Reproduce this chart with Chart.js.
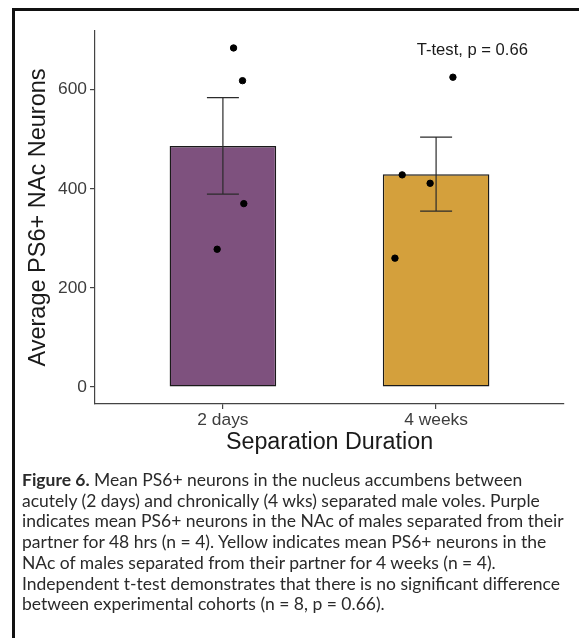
<!DOCTYPE html>
<html>
<head>
<meta charset="utf-8">
<script src="https://cdn.jsdelivr.net/npm/chart.js@4"></script>
<style>
  body { margin: 0; background: #fff; }
  #wrap { position: relative; width: 579px; height: 638px; overflow: hidden; }
  #chart { position: absolute; left: 0; top: 0; }
  #frame { position: absolute; left: 12px; top: 8px; width: 600px; height: 700px;
           border-top: 3px solid #111; border-left: 3px solid #111; pointer-events: none; }
  #caption { position: absolute; left: 22px; top: 470px; font-family: Lato, "Open Sans", sans-serif;
             font-size: 17.5px; line-height: 20.7px; color: #2a2a2a; white-space: nowrap; }
</style>
</head>
<body>
<div id="wrap">
  <canvas id="chart" width="579" height="460"></canvas>
  <div id="frame"></div>
  <div id="caption">
    <b>Figure 6.</b> Mean PS6+ neurons in the nucleus accumbens between<br>
    acutely (2 days) and chronically (4 wks) separated male voles. Purple<br>
    indicates mean PS6+ neurons in the NAc of males separated from their<br>
    partner for 48 hrs (n = 4). Yellow indicates mean PS6+ neurons in the<br>
    NAc of males separated from their partner for 4 weeks (n = 4).<br>
    Independent t-test demonstrates that there is no significant difference<br>
    between experimental cohorts (n = 8, p = 0.66).
  </div>
</div>
<script>
// groups and their means
const groups = ['2 days', '4 weeks'];
const groupPos = [1, 2];
const means = [486, 429];
const errLow = [389, 355];
const errHigh = [584, 504];
const barColors = ['#7e517e', '#d4a03c'];

// individual animals (jittered x, value)
const pointX = [1.05, 1.092, 1.098, 0.973, 2.079, 1.841, 1.972, 1.807];
const pointY = [684, 618, 370, 278, 625, 428, 411, 260];

const yTicks = [0, 200, 400, 600];
const statLabel = 'T-test, p = 0.66';
const statX = 2.17, statY = 680;

const errorBars = {
    id: 'errorBars',
    afterDatasetDraw(chart, args) {
        if (args.index !== 1) return;
        const ctx = chart.ctx, xs = chart.scales.x, ys = chart.scales.y;
        ctx.save();
        ctx.strokeStyle = '#2b2b2b';
        ctx.lineWidth = 1.2;
        groupPos.forEach((g, i) => {
            const x = xs.getPixelForValue(g);
            const x0 = xs.getPixelForValue(g - 0.075), x1 = xs.getPixelForValue(g + 0.075);
            const lo = ys.getPixelForValue(errLow[i]), hi = ys.getPixelForValue(errHigh[i]);
            ctx.beginPath();
            ctx.moveTo(x, lo); ctx.lineTo(x, hi);
            ctx.moveTo(x0, lo); ctx.lineTo(x1, lo);
            ctx.moveTo(x0, hi); ctx.lineTo(x1, hi);
            ctx.stroke();
        });
        ctx.restore();
    },
    afterDraw(chart) {
        const ctx = chart.ctx;
        ctx.save();
        ctx.font = '16.6px "Liberation Sans", Arial, sans-serif';
        ctx.fillStyle = '#1a1a1a';
        ctx.textAlign = 'center';
        ctx.textBaseline = 'middle';
        ctx.fillText(statLabel, chart.scales.x.getPixelForValue(statX), chart.scales.y.getPixelForValue(statY));
        ctx.restore();
    }
};

new Chart(document.getElementById('chart').getContext('2d'), {
    type: 'bar',
    data: {
        datasets: [{
            type: 'scatter',
            data: pointX.map((x, i) => ({ x: x, y: pointY[i] })),
            backgroundColor: '#000',
            borderColor: '#000',
            pointRadius: 3.2,
            pointHoverRadius: 3.2
        }, {
            type: 'bar',
            data: groupPos.map((x, i) => ({ x: x, y: means[i] })),
            backgroundColor: barColors,
            borderColor: '#1a1a1a',
            borderWidth: 1.4,
            borderSkipped: false,
            barPercentage: 0.5,
            categoryPercentage: 1
        }]
    },
    options: {
        responsive: false,
        animation: false,
        layout: { padding: { top: 31, right: 15, left: 0, bottom: 0 } },
        plugins: { legend: { display: false }, tooltip: { enabled: false } },
        scales: {
            x: {
                type: 'linear',
                min: 0.4,
                max: 2.6,
                offset: false,
                afterBuildTicks: s => { s.ticks = groupPos.map(v => ({ value: v })); },
                afterFit: s => { s.height = 56; },
                grid: { display: true, offset: false, drawOnChartArea: false, drawTicks: true, tickLength: 5, color: '#444', lineWidth: 1.2 },
                border: { display: true, color: '#444', width: 1.2 },
                ticks: {
                    padding: 1,
                    color: '#3d3d3d',
                    font: { family: '"Liberation Sans", Arial, sans-serif', size: 17.4 },
                    callback: (v) => groups[groupPos.indexOf(v)] || ''
                },
                title: {
                    display: true,
                    text: 'Separation Duration',
                    color: '#1a1a1a',
                    font: { family: '"Liberation Sans", Arial, sans-serif', size: 23.3 },
                    padding: { top: 0, bottom: 3 }
                }
            },
            y: {
                min: -34.2,
                max: 718.2,
                afterBuildTicks: s => { s.ticks = yTicks.map(v => ({ value: v })); },
                afterFit: s => { s.width = 95; },
                grid: { display: true, drawOnChartArea: false, drawTicks: true, tickLength: 5, color: '#444', lineWidth: 1.2 },
                border: { display: true, color: '#444', width: 1.2 },
                ticks: {
                    padding: 3,
                    color: '#3d3d3d',
                    font: { family: '"Liberation Sans", Arial, sans-serif', size: 17.4 }
                },
                title: {
                    display: true,
                    text: 'Average PS6+ NAc Neurons',
                    color: '#1a1a1a',
                    font: { family: '"Liberation Sans", Arial, sans-serif', size: 23.5 },
                    padding: { top: 24, bottom: 0 }
                }
            }
        }
    },
    plugins: [errorBars]
});
</script>
</body>
</html>
